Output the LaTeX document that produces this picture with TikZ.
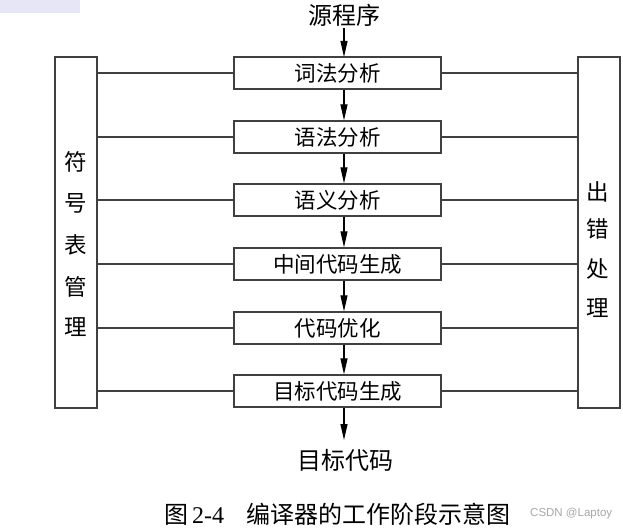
\documentclass[tikz,border=0pt]{standalone}
\usepackage{fontspec}
\setmainfont{Liberation Serif}
\newfontfamily\cjk{Noto Sans CJK SC}
\usetikzlibrary{arrows.meta}
\definecolor{boxline}{HTML}{404040}
\definecolor{wm}{HTML}{E6E6F7}
\tikzset{
  stage/.style={draw=boxline, line width=1.3pt, minimum width=207pt, minimum height=32pt, inner sep=0pt, font=\cjk\fontsize{21.5pt}{21.5pt}\selectfont},
  side/.style={draw=boxline, line width=1.3pt, minimum width=42pt, minimum height=351pt, inner sep=0pt},
  sidechar/.style={font=\cjk\fontsize{22.5pt}{22.5pt}\selectfont, inner sep=0pt},
  link/.style={draw=boxline, line width=1.2pt},
  flow/.style={draw=black, line width=1.1pt, -{Triangle[length=16pt, width=7pt]}},
  endtext/.style={font=\cjk\fontsize{24pt}{24pt}\selectfont, inner sep=0pt}
}
\begin{document}
\begin{tikzpicture}[x=1pt, y=-1pt]
\useasboundingbox (0,0) rectangle (623,529);
\fill[wm] (0,0) rectangle (80,13);
% side boxes
\node[side] (sym) at (76,232.5) {};
\node[side] (err) at (599,232.5) {};
\node[sidechar] (s1) at (76,162) {符};
\node[sidechar] (s2) at (76,203) {号};
\node[sidechar] (s3) at (76,245) {表};
\node[sidechar] (s4) at (76,287) {管};
\node[sidechar] (s5) at (76,327) {理};
\node[sidechar] (e1) at (598,192) {出};
\node[sidechar] (e2) at (598,229) {错};
\node[sidechar] (e3) at (598,269) {处};
\node[sidechar] (e4) at (598,308) {理};
% stages
\node[stage] (b1) at (337.5,73) {词法分析};
\node[stage] (b2) at (337.5,137) {语法分析};
\node[stage] (b3) at (337.5,200) {语义分析};
\node[stage] (b4) at (337.5,264) {中间代码生成};
\node[stage] (b5) at (337.5,328) {代码优化};
\node[stage] (b6) at (337.5,391) {目标代码生成};
% texts
\node[endtext] (src) at (344,15) {源程序};
\node[endtext] (dst) at (345,460) {目标代码};
% flow arrows
\draw[flow] (344,28) -- (344,57);
\foreach \a/\b in {b1/b2,b2/b3,b3/b4,b4/b5,b5/b6}{
  \draw[flow] ([xshift=6.5pt]\a.south) -- ([xshift=6.5pt]\b.north);
}
\draw[flow] ([xshift=6.5pt]b6.south) -- (344,440);
% links
\foreach \b in {b1,b2,b3,b4,b5,b6}{
  \draw[link] (sym.east |- \b.west) -- (\b.west);
  \draw[link] (\b.east) -- (err.west |- \b.east);
}
% caption
\node[inner sep=0pt, anchor=west, font=\fontsize{24pt}{24pt}\selectfont] (cap) at (164,514) {{\cjk 图}\,2-4\hspace{22pt}{\cjk 编译器的工作阶段示意图}};
\node[inner sep=0pt, anchor=west, text=gray!70, font=\fontspec{Liberation Sans}\fontsize{11.5pt}{11.5pt}\selectfont] (wmk) at (530,514) {CSDN @Laptoy};
\end{tikzpicture}
\end{document}
